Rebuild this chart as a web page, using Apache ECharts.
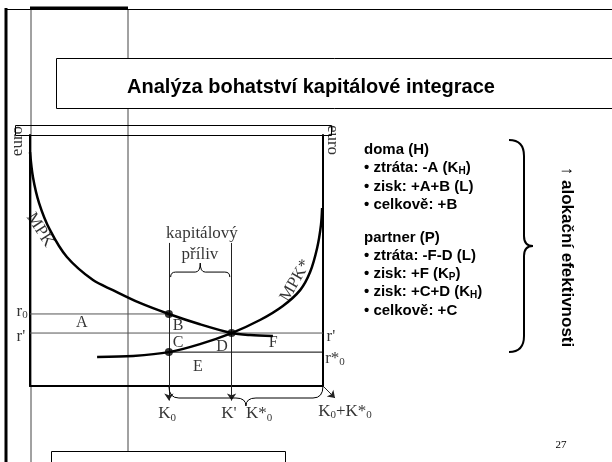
<!DOCTYPE html>
<html lang="cs">
<head>
<meta charset="UTF-8">
<title>Analýza bohatství kapitálové integrace</title>
<style>
  html, body { margin: 0; padding: 0; background: #fff; }
  #main { width: 612px; height: 462px; }
</style>
</head>
<body>
<div id="main"></div>
<script src="https://cdn.jsdelivr.net/npm/echarts@6/dist/echarts.min.js"></script>
<script>
var chart = echarts.init(document.getElementById('main'));

// osa x: kapitál (0 = levá osa, 100 = K0+K*0), osa y: euro (0..100)
var K0 = 47.4;
var K1 = 68.8;      // K'
var kTop = 57;      // odkud jdou svislice K0 a K'
var kEnd = -5.8;    // šipky pod osou
var r0 = 28.7;
var r1 = 21.1;      // r'
var rs0 = 13.5;     // r*0

// MPK doma a MPK* partnera
var mpkX = [0, 1, 3.1, 6.8, 12.6, 21.5, 28.3, 37.5, 47.4, 58, 68.8, 75.1, 82.9];
var mpkY = [93.2, 83.3, 72.9, 62.2, 51.4, 42.2, 38.2, 33.1, 28.7, 24.6, 21.1, 20.3, 19.9];
var mpkStarX = [22.9, 35.2, 47.4, 58, 68.8, 78.5, 86.3, 92.2, 95.6, 98, 99.3, 99.7];
var mpkStarY = [11.6, 12, 13.5, 16.7, 21.1, 26.3, 31.9, 38.2, 45.4, 55, 64.1, 70.9];

// plochy A..F
var areaNames = ['A', 'B', 'C', 'D', 'E', 'F'];
var areaX = [17.7, 50.5, 50.5, 65.5, 57.3, 83];
var areaY = [25.1, 23.9, 17.1, 15.5, 7.6, 17.1];

// ostatní popisky v grafu
var tagText = ['euro', 'euro', '{n|r}{s|0}', "r'", "r'", '{n|r*}{s|0}',
  '{n|K}{s|0}', "K'", '{n|K*}{s|0}', '{n|K}{s|0}{n|+K*}{s|0}',
  'kapitálový', 'příliv', 'MPK', 'MPK*'];
var tagX = [-4.1, 103.1, -2.7, -3.1, 102.7, 104.1, 46.8, 67.9, 78.2, 107.5, 58.7, 58, 3.4, 90.6];
var tagY = [97.6, 98, 29.5, 19.9, 19.9, 10.8, -11.2, -10.8, -11.2, -10.4, 60.6, 52.2, 62.2, 42];
var tagRot = [90, -90, 0, 0, 0, 0, 0, 0, 0, 0, 0, 0, -57, 60];

// text vpravo
var notes = ['doma (H)', '{b|• ztráta: -A (K}{s|H}{b|)}', '• zisk: +A+B (L)', '• celkově: +B',
  'partner (P)', '• ztráta: -F-D (L)', '{b|• zisk: +F (K}{s|P}{b|)}', '{b|• zisk: +C+D (K}{s|H}{b|)}', '• celkově: +C'];
var sideNote = '↑ alokační efektivnosti';
var titleText = 'Analýza bohatství kapitálové integrace';
var pageNo = '27';

function zip(xs, ys) {
  return xs.map(function (x, i) { return [x, ys[i]]; });
}

var serif = '"Liberation Serif", "Times New Roman", serif';
var sans = '"Liberation Sans", Arial, sans-serif';

var labelData = [];
areaNames.forEach(function (t, i) {
  labelData.push({ name: t, value: [areaX[i], areaY[i]], label: { fontSize: 16 } });
});
tagText.forEach(function (t, i) {
  labelData.push({ name: t, value: [tagX[i], tagY[i]], label: { rotate: tagRot[i] } });
});

// složená závorka (vodorovná), dir 1 = dolů, -1 = nahoru
function renderBrace(params, api) {
  var a = api.coord([api.value(0), api.value(1)]);
  var b = api.coord([api.value(2), api.value(3)]);
  var s = api.value(4);
  var h1 = s > 0 ? 12 : 5, h2 = s > 0 ? 20 : 14, r = s > 0 ? 10 : 5;
  var y = a[1], ax = a[0], bx = b[0], mid = (ax + bx) / 2, f = y + s * h1;
  var d = 'M' + ax + ' ' + y +
    ' Q' + ax + ' ' + f + ' ' + (ax + r) + ' ' + f +
    ' L' + (mid - r) + ' ' + f +
    ' Q' + mid + ' ' + f + ' ' + mid + ' ' + (y + s * h2) +
    ' Q' + mid + ' ' + f + ' ' + (mid + r) + ' ' + f +
    ' L' + (bx - r) + ' ' + f +
    ' Q' + bx + ' ' + f + ' ' + bx + ' ' + y;
  return { type: 'path', shape: { pathData: d }, style: { fill: 'none', stroke: '#000', lineWidth: 1 } };
}

// velká svislá závorka vpravo
function bigBrace(x0, xs, xt, y0, y1) {
  var m = (y0 + y1) / 2, st = { stroke: '#000', lineWidth: 2, fill: 'none' };
  return [
    { type: 'bezierCurve', shape: { x1: x0, y1: y0, cpx1: x0 + 10, cpy1: y0, cpx2: xs, cpy2: y0 + 6, x2: xs, y2: y0 + 16 }, style: st },
    { type: 'line', shape: { x1: xs, y1: y0 + 16, x2: xs, y2: m - 10 }, style: st },
    { type: 'bezierCurve', shape: { x1: xs, y1: m - 10, cpx1: xs, cpy1: m - 4, cpx2: xs + 3, cpy2: m, x2: xt, y2: m }, style: st },
    { type: 'bezierCurve', shape: { x1: xt, y1: m, cpx1: xs + 3, cpy1: m, cpx2: xs, cpy2: m + 4, x2: xs, y2: m + 10 }, style: st },
    { type: 'line', shape: { x1: xs, y1: m + 10, x2: xs, y2: y1 - 16 }, style: st },
    { type: 'bezierCurve', shape: { x1: xs, y1: y1 - 16, cpx1: xs, cpy1: y1 - 6, cpx2: x0 + 10, cpy2: y1, x2: x0, y2: y1 }, style: st }
  ];
}

var graphics = [
  { type: 'line', z: 0, shape: { x1: 31, y1: 9, x2: 31, y2: 462 }, style: { stroke: '#444', lineWidth: 1 } },
  { type: 'line', z: 0, shape: { x1: 128, y1: 9, x2: 128, y2: 451 }, style: { stroke: '#444', lineWidth: 1 } },
  { type: 'line', z: 1, shape: { x1: 6, y1: 9.5, x2: 612, y2: 9.5 }, style: { stroke: '#000', lineWidth: 1 } },
  { type: 'line', z: 1, shape: { x1: 30, y1: 8, x2: 128, y2: 8 }, style: { stroke: '#000', lineWidth: 3 } },
  { type: 'line', z: 1, shape: { x1: 6, y1: 8, x2: 6, y2: 462 }, style: { stroke: '#000', lineWidth: 3 } },
  { type: 'rect', z: 1, shape: { x: 56.5, y: 58.5, width: 600, height: 50 }, style: { fill: '#fff', stroke: '#000', lineWidth: 1 } },
  { type: 'rect', z: 1, shape: { x: 51.5, y: 451.5, width: 234, height: 20 }, style: { fill: '#fff', stroke: '#000', lineWidth: 1 } },
  { type: 'rect', z: 1, shape: { x: 15.5, y: 125.5, width: 316, height: 10 }, style: { fill: 'none', stroke: '#000', lineWidth: 1 } },
  {
    type: 'text', z: 3, x: 311, y: 87,
    style: { text: titleText, font: 'bold 20px ' + sans, fill: '#000', textAlign: 'center', textVerticalAlign: 'middle', align: 'center', verticalAlign: 'middle' }
  },
  {
    type: 'text', z: 3, x: 561, y: 445,
    style: { text: pageNo, font: '11px ' + serif, fill: '#000', textAlign: 'center', textVerticalAlign: 'middle', align: 'center', verticalAlign: 'middle' }
  },
  {
    type: 'text', z: 3, x: 567, y: 257, rotation: -Math.PI / 2,
    style: { text: sideNote, font: 'bold 17px ' + sans, fill: '#000', textAlign: 'center', textVerticalAlign: 'middle', align: 'center', verticalAlign: 'middle' }
  }
].concat(bigBrace(509, 524, 533, 140, 352));

notes.forEach(function (t, i) {
  graphics.push({
    type: 'text', z: 3, x: 364, y: 150 + i * 18.2 + (i >= 4 ? 15 : 0),
    style: {
      text: t, font: 'bold 15px ' + sans, fill: '#000',
      textAlign: 'left', textVerticalAlign: 'middle', align: 'left', verticalAlign: 'middle',
      rich: {
        b: { fontSize: 15, fontWeight: 'bold', fontFamily: sans, lineHeight: 16, verticalAlign: 'top' },
        s: { fontSize: 10, fontWeight: 'bold', fontFamily: sans, lineHeight: 10, padding: [9, 0, 0, 0], verticalAlign: 'bottom' }
      }
    }
  });
});

var axisCommon = {
  type: 'value', min: 0, max: 100,
  axisLine: { show: true, onZero: false, lineStyle: { color: '#000', width: 2 } },
  axisTick: { show: false }, axisLabel: { show: false }, splitLine: { show: false }
};

var option = {
  animation: false,
  backgroundColor: '#fff',
  grid: { left: 30, right: 289, top: 135, bottom: 76 },
  xAxis: Object.assign({}, axisCommon),
  yAxis: [Object.assign({ position: 'left' }, axisCommon), Object.assign({ position: 'right' }, axisCommon)],
  graphic: graphics,
  series: [
    {
      name: "r'", type: 'line', data: [[0, r1], [100, r1]], symbol: 'none', z: 3,
      lineStyle: { color: '#555', width: 1 }
    },
    {
      name: 'r0', type: 'line', data: [[0, r0], [K0, r0]], symbol: 'none', z: 3,
      lineStyle: { color: '#555', width: 1 }
    },
    {
      name: 'r*0', type: 'line', data: [[K0, rs0], [100, rs0]], symbol: 'none', z: 3,
      lineStyle: { color: '#000', width: 1 }
    },
    {
      name: 'MPK', type: 'line', data: zip(mpkX, mpkY), symbol: 'none', smooth: 0.3, z: 5,
      lineStyle: { color: '#000', width: 2.5 }
    },
    {
      name: 'MPK*', type: 'line', data: zip(mpkStarX, mpkStarY), symbol: 'none', smooth: 0.3, z: 5,
      lineStyle: { color: '#000', width: 2.5 }
    },
    {
      name: 'šipky', type: 'lines', coordinateSystem: 'cartesian2d', clip: false, z: 4,
      symbol: ['none', 'arrow'], symbolSize: 7,
      lineStyle: { color: '#222', width: 1, opacity: 1 },
      data: [
        { coords: [[K0, kTop], [K0, kEnd]] },
        { coords: [[K1, kTop], [K1, kEnd]] },
        { coords: [[100, 0], [104.1, -4.8]] }
      ]
    },
    {
      name: 'závorky', type: 'custom', renderItem: renderBrace, z: 4,
      data: [[K0, 0, 100, 0, 1], [K0 + 0.6, 43.4, K1 - 0.6, 43.4, -1]]
    },
    {
      name: 'body', type: 'scatter', symbolSize: 8, z: 6,
      itemStyle: { color: '#000' },
      data: [[K0, r0], [K1, r1], [K0, rs0]]
    },
    {
      name: 'popisky', type: 'scatter', symbolSize: 0, clip: false, silent: true, z: 7,
      data: labelData,
      label: {
        show: true, position: 'inside', color: '#000', fontFamily: serif, fontSize: 17,
        formatter: function (p) { return p.name; },
        rich: {
          n: { fontFamily: serif, fontSize: 17, color: '#000', lineHeight: 18, verticalAlign: 'top' },
          s: { fontFamily: serif, fontSize: 11, color: '#000', lineHeight: 11, padding: [9, 0, 0, 0], verticalAlign: 'bottom' }
        }
      }
    }
  ]
};

chart.setOption(option);
</script>
</body>
</html>
